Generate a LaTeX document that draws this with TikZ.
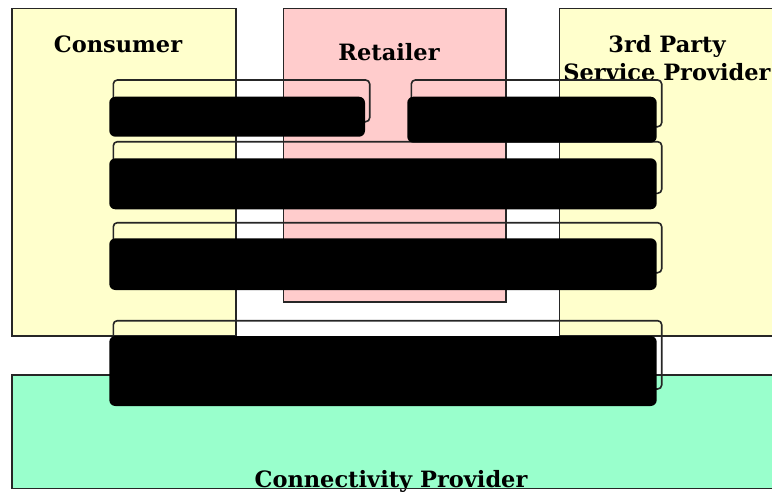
\documentclass[tikz,border=0pt]{standalone}
\usepackage{fontspec}
\newfontfamily\labfont{DejaVu Serif}
\definecolor{consumeryellow}{RGB}{255,255,204}
\definecolor{retailerpink}{RGB}{255,204,204}
\definecolor{conngreen}{RGB}{153,255,204}
\begin{document}
\begin{tikzpicture}[x=1pt,y=-1pt,
  area/.style={draw=black!85,line width=1.6pt},
  lab/.style={inner sep=0pt,anchor=base,font=\labfont\bfseries\fontsize{22.5}{26}\selectfont},
  frame/.style={draw=black!85,line width=1.6pt,rounded corners=4pt},
  blackbox/.style={fill=black,rounded corners=6pt}]
\path[use as bounding box] (0,0) rectangle (772,493);
\clip (0,0) rectangle (772,493);
% areas
\draw[area,fill=consumeryellow] (11.7,8.3) rectangle (235.7,336);
\draw[area,fill=retailerpink] (283.3,8.3) rectangle (505.7,302);
\draw[area,fill=consumeryellow] (559.3,8.3) rectangle (780,336);
\fill[conngreen] (11.7,374.7) rectangle (780,488.3);
% labels
\node[lab] (consumer) at (118,52) {Consumer};
\node[lab] (retailer) at (389,60) {Retailer};
\node[lab] (third1) at (667,52) {3rd Party};
\node[lab] (third2) at (667,80) {Service Provider};
\node[lab] (conn) at (391,487.5) {Connectivity Provider};
\draw[area] (11.7,374.7) rectangle (780,488.3);
% outline frames
\draw[frame] (113.3,80) rectangle (369.7,121.7);
\draw[frame] (411.3,80) rectangle (661.7,126.7);
\draw[frame] (113.3,141.7) rectangle (661.7,193.3);
\draw[frame] (113.3,222.7) rectangle (661.7,272.7);
\draw[frame] (113.3,320.7) rectangle (661.7,389);
% black boxes
\fill[blackbox] (109.3,96.7) rectangle (365,136.7);
\fill[blackbox] (407.3,96.7) rectangle (656.7,142.7);
\fill[blackbox] (109.3,158.3) rectangle (656.7,209.3);
\fill[blackbox] (109.3,238.3) rectangle (656.7,290);
\fill[blackbox] (109.3,336) rectangle (656.7,406);
\end{tikzpicture}
\end{document}
